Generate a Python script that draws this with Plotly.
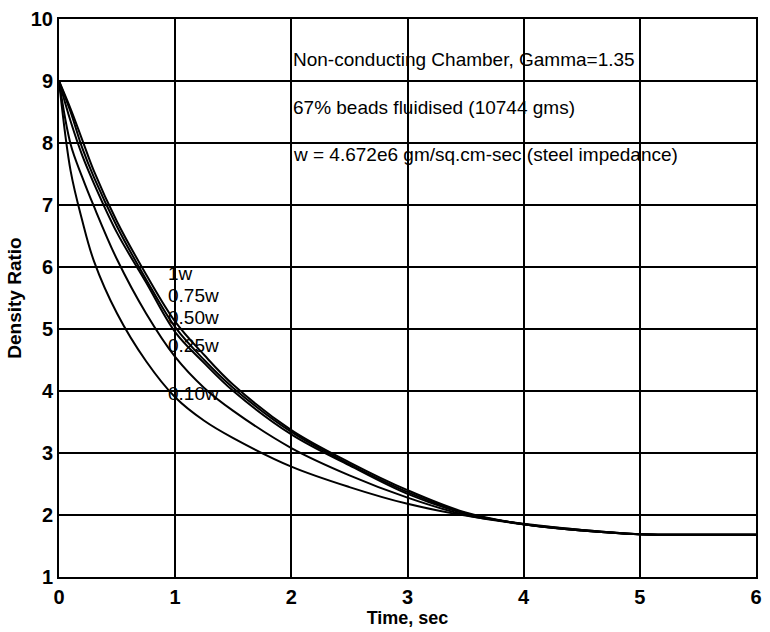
import plotly.graph_objects as go

# Curves: time (sec) and density ratio
t_grid = [0, 0.1, 0.2, 0.3, 0.5, 0.75, 1.0, 1.25, 1.5, 2.0, 2.5, 3.0, 3.5, 4.0, 4.5, 5.0, 5.5, 6.0]

y_100 = [9, 8.55, 8.05, 7.55, 6.73, 5.88, 5.12, 4.58, 4.10, 3.37, 2.85, 2.40, 2.04, 1.85, 1.75, 1.69, 1.68, 1.68]
y_075 = [9, 8.50, 7.92, 7.45, 6.65, 5.80, 5.03, 4.50, 4.05, 3.34, 2.82, 2.37, 2.03, 1.85, 1.75, 1.69, 1.68, 1.68]
y_050 = [9, 8.35, 7.80, 7.35, 6.55, 5.75, 4.95, 4.45, 4.00, 3.30, 2.80, 2.34, 2.02, 1.85, 1.75, 1.69, 1.68, 1.68]
y_025 = [9, 7.98, 7.45, 6.98, 6.12, 5.25, 4.55, 4.05, 3.68, 3.08, 2.64, 2.28, 2.00, 1.85, 1.76, 1.69, 1.68, 1.68]
y_010 = [9, 7.55, 6.75, 6.10, 5.25, 4.48, 3.90, 3.52, 3.24, 2.78, 2.45, 2.18, 1.99, 1.86, 1.76, 1.69, 1.68, 1.68]

curve_labels = ["1w", "0.75w", "0.50w", "0.25w", "0.10w"]
label_x = [0.92, 0.92, 0.92, 0.92, 0.92]
label_y = [5.9, 5.54, 5.18, 4.73, 3.96]

notes = ["Non-conducting Chamber, Gamma=1.35",
         "67% beads fluidised (10744 gms)",
         "w = 4.672e6 gm/sq.cm-sec (steel impedance)"]
note_x = 2.0
note_y = [9.35, 8.57, 7.82]

x_ticks = [0, 1, 2, 3, 4, 5, 6]
y_ticks = [1, 2, 3, 4, 5, 6, 7, 8, 9, 10]

FONT = "Liberation Sans, Arial, sans-serif"

fig = go.Figure()
for ty, name in [(y_100, "1w"), (y_075, "0.75w"), (y_050, "0.50w"),
                 (y_025, "0.25w"), (y_010, "0.10w")]:
    fig.add_trace(go.Scatter(x=t_grid, y=ty, mode="lines", name=name,
                             line=dict(color="black", width=2, shape="spline", smoothing=1.0),
                             showlegend=False))

for txt, lx, ly in zip(curve_labels, label_x, label_y):
    fig.add_annotation(x=lx, y=ly, text=txt, showarrow=False, xanchor="left",
                       yanchor="middle", font=dict(family=FONT, size=19, color="black"))

for txt, ny in zip(notes, note_y):
    fig.add_annotation(x=note_x, y=ny, text=txt, showarrow=False, xanchor="left",
                       yanchor="middle", font=dict(family=FONT, size=19, color="black"))

axis_common = dict(showgrid=True, gridcolor="black", gridwidth=2, showline=True,
                   linecolor="black", linewidth=2, mirror=True, zeroline=False,
                   ticks="", tickfont=dict(family=FONT, size=20, color="black"))

fig.update_xaxes(range=[0, 6], tickvals=x_ticks,
                 ticktext=["<b>%d</b>" % v for v in x_ticks], ticklabelstandoff=1,
                 title=dict(text="<b>Time, sec</b>", font=dict(family=FONT, size=18, color="black"),
                            standoff=0),
                 **axis_common)
fig.update_yaxes(range=[1, 10], tickvals=y_ticks,
                 ticktext=["<b>%d</b>" % v for v in y_ticks], ticklabelstandoff=0,
                 title=dict(text="<b>Density Ratio</b>", font=dict(family=FONT, size=19, color="black"),
                            standoff=4),
                 **axis_common)

fig.update_layout(width=770, height=632, margin=dict(l=59, r=8, t=13, b=55),
                  plot_bgcolor="white", paper_bgcolor="white")

fig.write_html("out.html")
